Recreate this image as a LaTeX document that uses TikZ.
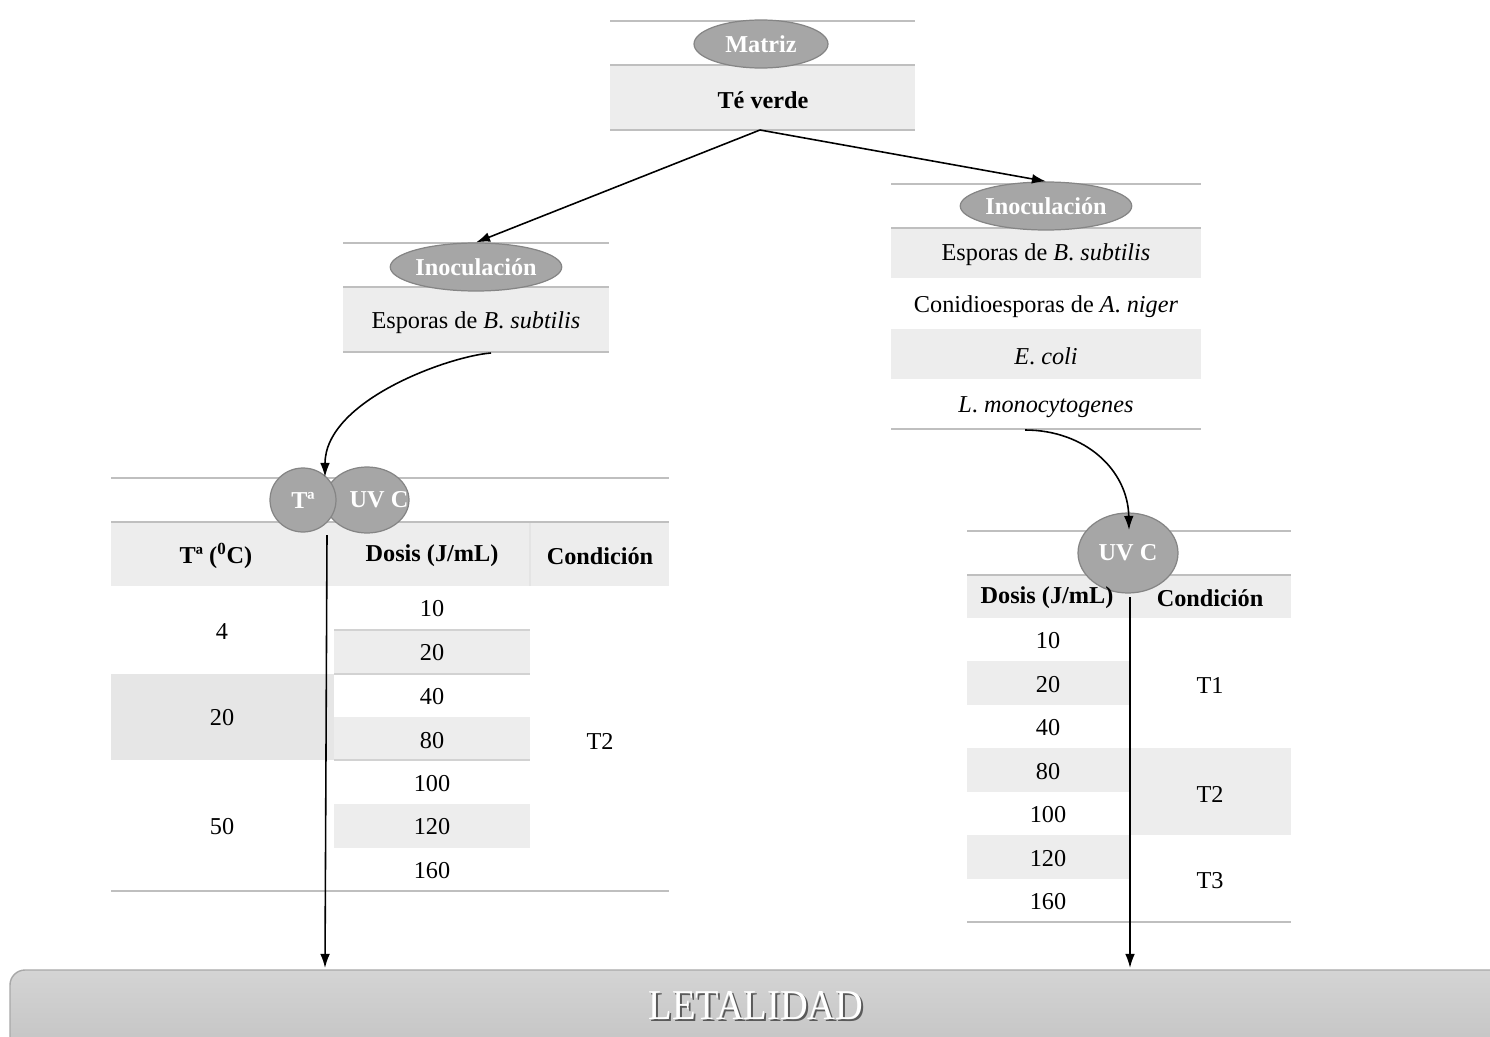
\documentclass[tikz,border=0pt]{standalone}
\usepackage{fontspec}
\setmainfont{Liberation Serif}
\usetikzlibrary{shapes.geometric,arrows.meta}
\definecolor{rowgray}{HTML}{EDEDED}
\definecolor{cellgray}{HTML}{E6E6E6}
\definecolor{linegray}{HTML}{BFBFBF}
\definecolor{thingray}{HTML}{D2D2D2}
\definecolor{ellfill}{HTML}{A6A6A6}
\definecolor{elldraw}{HTML}{858585}
\definecolor{bartop}{HTML}{D4D4D4}
\definecolor{barbot}{HTML}{BEBEBE}
\definecolor{barline}{HTML}{A8A8A8}
\definecolor{shadowgray}{HTML}{5A5A5A}
\begin{document}
\begin{tikzpicture}[x=0.02cm,y=-0.02cm,
  font=\fontsize{13.8}{16}\selectfont,
  bubble/.style={ellipse, fill=ellfill, draw=elldraw, line width=0.7pt, inner sep=0pt,
    text=white, font=\fontsize{13.8}{16}\selectfont\bfseries},
  rule/.style={draw=linegray, line width=1.2pt},
  thin rule/.style={draw=thingray, line width=0.9pt},
  arr/.style={-{Latex[length=8pt,width=5.5pt]}, line width=0.9pt},
  cell/.style={inner sep=0pt, anchor=center},
  head/.style={cell, font=\fontsize{13.8}{16}\selectfont\bfseries}]
\useasboundingbox (0,0) rectangle (1490,1037);

% ---------- Matriz block ----------
\fill[rowgray] (610,65) rectangle (915,130);
\draw[rule] (610,21) -- (915,21) (610,65) -- (915,65) (610,130) -- (915,130);
\node[bubble, minimum width=2.68cm, minimum height=0.96cm] (matriz) at (761,44) {Matriz};
\node[head] (te) at (763,100) {Té verde};
\coordinate (teb) at (760,130);

% ---------- Left inoculation block ----------
\fill[rowgray] (343,287) rectangle (609,352);
\draw[rule] (343,243) -- (609,243) (343,287) -- (609,287) (343,352) -- (609,352);
\node[bubble, minimum width=3.24cm, minimum height=0.96cm] (inocL) at (476,267) {Inoculación};
\node[cell] (espL) at (476,323) {Esporas de \textit{B}. \textit{subtilis}};
\coordinate (sL) at (491,353);

% ---------- Right inoculation block ----------
\fill[rowgray] (891,228) rectangle (1201,278);
\fill[rowgray] (891,329) rectangle (1201,379);
\draw[rule] (891,184) -- (1201,184) (891,228) -- (1201,228) (891,429) -- (1201,429);
\node[bubble, minimum width=3.22cm, minimum height=0.96cm] (inocR) at (1046,206) {Inoculación};
\node[cell] (espR) at (1046,255) {Esporas de \textit{B}. \textit{subtilis}};
\node[cell] (anig) at (1046,307) {Conidioesporas de \textit{A}. \textit{niger}};
\node[cell] (ecoli) at (1046,356) {\textit{E}. \textit{coli}};
\node[cell] (lmono) at (1046,407) {\textit{L}. \textit{monocytogenes}};
\coordinate (sR) at (1025,430);

% ---------- Left table (temperature and UV C) ----------
\fill[rowgray] (111,522) rectangle (669,586);
\draw[draw=thingray!60, line width=0.6pt] (530,522) -- (530,586);
\fill[cellgray] (111,674) rectangle (334,760);
\fill[rowgray] (334,630) rectangle (530,674);
\fill[rowgray] (334,717) rectangle (530,760);
\fill[rowgray] (334,804) rectangle (530,848);
\draw[thin rule] (334,630) -- (530,630) (334,674) -- (530,674) (334,760) -- (530,760);
\draw[rule] (111,478) -- (669,478) (111,522) -- (669,522) (111,891) -- (669,891);

\node[bubble, minimum width=1.68cm, minimum height=1.32cm,
  path picture={\node[text=white, font=\fontsize{13.8}{16}\selectfont\bfseries]
    at ([xshift=0.24cm]path picture bounding box.center) {UV C};}] (uvL) at (367,500) {};
\node[bubble, minimum width=1.32cm, minimum height=1.28cm] (temp) at (303,500) {Tª};
\coordinate (tipL) at (325,477);
\coordinate (vL1) at (327,535);
\coordinate (vL2) at (325,968);

\node[head] (hT) at (216,556) {Tª (\textsuperscript{0}C)};
\node[head] (hDL) at (432,556) {Dosis (J/mL)};
\node[head] (hCL) at (600,556) {Condición};
\node[cell] (t4) at (222,632) {4};
\node[cell] (t20) at (222,718) {20};
\node[cell] (t50) at (222,827) {50};
\foreach \v/\y in {10/609,20/653,40/697,80/741,100/784,120/827,160/871}
  \node[cell] (dL\v) at (432,\y) {\v};
\node[cell] (cT2L) at (600,741) {T2};

% ---------- Right table (UV C) ----------
\fill[rowgray] (967,575) rectangle (1291,618);
\fill[rowgray] (967,661.4) rectangle (1129,704.9);
\fill[rowgray] (967,748.3) rectangle (1129,791.7);
\fill[rowgray] (967,835.1) rectangle (1129,878.6);
\fill[rowgray] (1129,748.3) rectangle (1291,835.1);
\draw[rule] (967,531) -- (1291,531) (967,575) -- (1291,575) (967,922) -- (1291,922);

\node[bubble, minimum width=2cm, minimum height=1.6cm] (uvR) at (1128,553) {UV C};
\coordinate (tipR) at (1129,530);
\coordinate (vR1) at (1130,597);
\coordinate (vR2) at (1130,968);

\node[head] (hDR) at (1047,598) {Dosis (J/mL)};
\node[head] (hCR) at (1210,598) {Condición};
\foreach \v/\y in {10/641,20/685,40/728,80/772,100/815,120/859,160/902}
  \node[cell] (dR\v) at (1048,\y) {\v};
\node[cell] (cT1) at (1210,685) {T1};
\node[cell] (cT2R) at (1210,794) {T2};
\node[cell] (cT3) at (1210,881) {T3};

% ---------- Result bar ----------
\begin{scope}
  \clip (0,0) rectangle (1490,1037);
  \shade[top color=bartop, bottom color=barbot, draw=barline, line width=0.8pt,
    rounded corners=0.3cm] (10,1080) -- (10,970) -- (1520,970) -- (1520,1080) -- cycle;
\end{scope}
\node[cell, text=shadowgray, font=\fontsize{23}{26}\selectfont]
  (letalS) at (758,1008) {\scalebox{0.95}[1.05]{LETALIDAD}};
\node[cell, text=white, font=\fontsize{23}{26}\selectfont]
  (letal) at (756,1006) {\scalebox{0.95}[1.05]{LETALIDAD}};

% ---------- Connectors ----------
\draw[arr] (teb) -- (inocL.north);
\draw[arr] (teb) -- (inocR.north);
\draw[arr] (sL) .. controls (450,356) and (325,400) .. (tipL);
\draw[arr] (sR) .. controls (1085,430) and (1128,470) .. (tipR);
\draw[arr] (vL1) -- (vL2);
\draw[arr] (vR1) -- (vR2);
\end{tikzpicture}
\end{document}
